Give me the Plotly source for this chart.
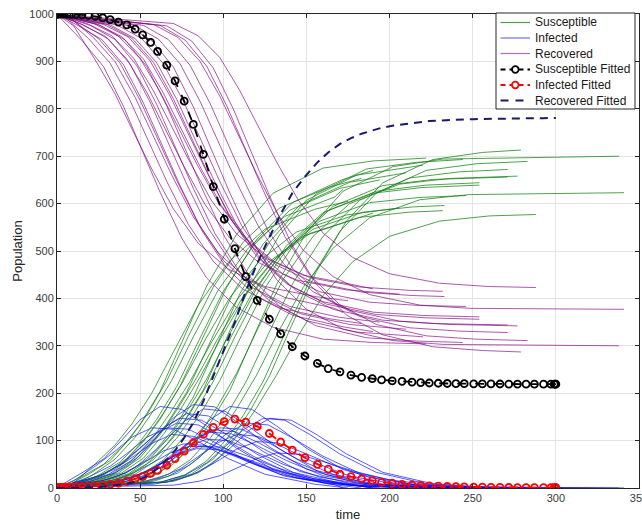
import plotly.graph_objects as go

# ---------------- stochastic trajectories ----------------
traj_time = [
    [0, 10, 23, 35, 45, 57, 70, 85, 103, 125, 155, 175],
    [0, 15, 28, 40, 50, 62, 75, 90, 108, 130, 160, 190, 222],
    [0, 4, 19, 32, 44, 54, 66, 79, 94, 112, 134, 164, 183],
    [0, 7, 22, 35, 47, 57, 69, 82, 97, 115, 137, 167, 172],
    [0, 10, 25, 38, 50, 60, 72, 85, 100, 118, 140, 170, 194],
    [0, 12, 27, 40, 52, 62, 74, 87, 102, 120, 142, 172, 190],
    [0, 14, 29, 42, 54, 64, 76, 89, 104, 122, 144, 174, 206],
    [0, 16, 31, 44, 56, 66, 78, 91, 106, 124, 146, 176, 210],
    [0, 18, 33, 46, 58, 68, 80, 93, 108, 126, 148, 178, 190],
    [0, 20, 35, 48, 60, 70, 82, 95, 110, 128, 150, 180, 210, 220],
    [0, 22, 37, 50, 62, 72, 84, 97, 112, 130, 152, 182, 212, 232],
    [0, 24, 39, 52, 64, 74, 86, 99, 114, 132, 154, 184, 214, 233],
    [0, 26, 41, 54, 66, 76, 88, 101, 116, 134, 156, 186, 216, 244],
    [0, 28, 43, 56, 68, 78, 90, 103, 118, 136, 158, 188, 218, 246],
    [0, 30, 45, 58, 70, 80, 92, 105, 120, 138, 160, 190, 220, 254],
    [0, 32, 47, 60, 72, 82, 94, 107, 122, 140, 162, 192, 222, 254],
    [0, 36, 51, 64, 76, 86, 98, 111, 126, 144, 166, 196, 226, 271],
    [0, 42, 57, 70, 82, 92, 104, 117, 132, 150, 172, 202, 232, 338],
    [0, 46, 61, 74, 86, 96, 108, 121, 136, 154, 176, 206, 236, 277],
    [0, 52, 67, 80, 92, 102, 114, 127, 142, 160, 182, 212, 242, 271],
    [0, 58, 73, 86, 98, 108, 120, 133, 148, 166, 188, 218, 248, 341],
    [0, 62, 77, 90, 102, 112, 124, 137, 152, 170, 192, 222, 252, 283],
    [0, 66, 81, 94, 106, 116, 128, 141, 156, 174, 196, 226, 256, 279],
    [0, 70, 85, 98, 110, 120, 132, 145, 160, 178, 200, 230, 260, 288],
]

# purple curves (legend: "Recovered")
traj_purple = [
    [999, 975, 903, 831, 758, 673, 589, 516, 462, 425, 404, 395],
    [999, 944, 889, 805, 722, 624, 527, 443, 381, 339, 314, 307, 304],
    [999, 996, 948, 896, 817, 739, 647, 556, 478, 419, 380, 357, 347],
    [999, 995, 950, 899, 824, 748, 660, 572, 496, 439, 402, 379, 370],
    [999, 985, 948, 896, 818, 740, 649, 558, 480, 422, 383, 360, 350],
    [999, 977, 946, 893, 812, 732, 638, 544, 464, 404, 364, 340, 330],
    [999, 979, 953, 905, 835, 764, 681, 598, 527, 474, 439, 418, 409],
    [999, 977, 947, 894, 814, 734, 641, 548, 468, 408, 368, 345, 335],
    [999, 980, 954, 907, 838, 768, 687, 606, 536, 484, 449, 429, 420],
    [999, 976, 946, 891, 809, 728, 632, 537, 455, 394, 353, 329, 322, 319],
    [999, 980, 953, 906, 836, 766, 684, 602, 532, 479, 444, 424, 417, 415],
    [999, 979, 952, 905, 833, 762, 678, 595, 523, 470, 434, 413, 406, 404],
    [999, 976, 945, 889, 806, 723, 626, 529, 446, 383, 342, 317, 310, 307],
    [999, 978, 951, 901, 827, 753, 667, 580, 506, 451, 414, 392, 385, 383],
    [999, 978, 949, 898, 821, 744, 655, 565, 489, 431, 393, 371, 364, 361],
    [999, 977, 948, 897, 820, 742, 652, 562, 485, 427, 388, 366, 359, 356],
    [999, 977, 948, 895, 816, 738, 646, 554, 475, 416, 377, 354, 347, 344],
    [999, 976, 944, 888, 804, 720, 622, 524, 440, 377, 335, 311, 303, 300],
    [999, 977, 947, 895, 816, 737, 645, 553, 474, 414, 375, 352, 345, 342],
    [999, 976, 946, 892, 812, 731, 637, 543, 462, 402, 362, 338, 331, 328],
    [999, 978, 950, 900, 826, 751, 664, 576, 502, 446, 408, 386, 379, 377],
    [999, 976, 945, 890, 807, 724, 628, 531, 449, 387, 345, 321, 314, 311],
    [999, 975, 943, 886, 800, 715, 615, 515, 430, 365, 323, 298, 290, 287],
    [999, 980, 954, 908, 838, 769, 688, 608, 538, 486, 452, 432, 425, 423],
]

# blue curves (legend: "Infected")
traj_blue = [
    [1, 15, 46, 78, 107, 127, 124, 98, 62, 29, 8, 0],
    [1, 32, 61, 105, 144, 172, 166, 131, 84, 39, 11, 3, 0],
    [1, 3, 23, 46, 78, 107, 127, 124, 98, 62, 29, 8, 0],
    [1, 4, 21, 40, 69, 94, 113, 109, 86, 55, 25, 7, 0],
    [1, 11, 25, 49, 84, 115, 137, 133, 105, 67, 31, 8, 0],
    [1, 12, 27, 53, 90, 123, 147, 143, 113, 72, 33, 9, 0],
    [1, 8, 17, 33, 57, 78, 93, 90, 71, 46, 21, 6, 0],
    [1, 13, 29, 56, 96, 131, 157, 152, 120, 77, 35, 10, 0],
    [1, 7, 16, 32, 54, 74, 88, 86, 68, 43, 20, 5, 0],
    [1, 14, 32, 63, 108, 148, 176, 171, 135, 86, 40, 11, 3, 0],
    [1, 7, 15, 30, 51, 70, 83, 81, 64, 41, 19, 5, 1, 0],
    [1, 7, 16, 32, 54, 74, 88, 86, 68, 43, 20, 5, 1, 0],
    [1, 14, 31, 60, 102, 139, 167, 162, 128, 82, 37, 10, 3, 0],
    [1, 8, 19, 37, 63, 86, 103, 100, 79, 50, 23, 6, 2, 0],
    [1, 10, 22, 42, 72, 98, 118, 114, 90, 58, 26, 7, 2, 0],
    [1, 10, 23, 44, 75, 103, 123, 119, 94, 60, 28, 8, 2, 0],
    [1, 10, 23, 46, 78, 107, 127, 124, 98, 62, 29, 8, 2, 0],
    [1, 14, 32, 61, 105, 144, 172, 166, 131, 84, 39, 11, 3, 0],
    [1, 9, 21, 40, 69, 94, 113, 109, 86, 55, 25, 7, 2, 0],
    [1, 11, 25, 49, 84, 115, 137, 133, 105, 67, 31, 8, 2, 0],
    [1, 8, 18, 35, 60, 82, 98, 95, 75, 48, 22, 6, 2, 0],
    [1, 12, 27, 53, 90, 123, 147, 143, 113, 72, 33, 9, 2, 0],
    [1, 12, 27, 53, 90, 123, 147, 143, 113, 72, 33, 9, 2, 0],
    [1, 6, 14, 26, 45, 62, 74, 71, 56, 36, 17, 5, 1, 0],
]

# green curves (legend: "Susceptible")
traj_green = [
    [0, 10, 51, 91, 135, 200, 287, 386, 476, 546, 588, 605],
    [0, 24, 50, 90, 134, 204, 307, 426, 535, 622, 675, 690, 696],
    [0, 1, 29, 58, 105, 154, 226, 320, 424, 519, 591, 635, 653],
    [0, 1, 29, 61, 107, 158, 227, 319, 418, 506, 573, 614, 630],
    [0, 4, 27, 55, 98, 145, 214, 309, 415, 511, 586, 632, 650],
    [0, 11, 27, 54, 98, 145, 215, 313, 423, 524, 603, 651, 670],
    [0, 13, 30, 62, 108, 158, 226, 312, 402, 480, 540, 576, 591],
    [0, 10, 24, 50, 90, 135, 202, 300, 412, 515, 597, 645, 665],
    [0, 13, 30, 61, 108, 158, 225, 308, 396, 473, 531, 566, 580],
    [0, 10, 22, 46, 83, 124, 192, 292, 410, 520, 607, 660, 675, 681],
    [0, 13, 32, 64, 113, 164, 233, 317, 404, 480, 537, 571, 582, 585],
    [0, 14, 32, 63, 113, 164, 234, 319, 409, 487, 546, 582, 593, 596],
    [0, 10, 24, 51, 92, 138, 207, 309, 426, 535, 621, 673, 687, 693],
    [0, 14, 30, 62, 110, 161, 230, 320, 415, 499, 563, 602, 613, 617],
    [0, 12, 29, 60, 107, 158, 227, 321, 421, 511, 581, 622, 634, 639],
    [0, 13, 29, 59, 105, 155, 225, 319, 421, 513, 584, 626, 639, 644],
    [0, 13, 29, 59, 106, 155, 227, 322, 427, 522, 594, 638, 651, 656],
    [0, 10, 24, 51, 91, 136, 206, 310, 429, 539, 626, 678, 694, 700],
    [0, 14, 32, 65, 115, 169, 242, 338, 440, 531, 600, 641, 653, 658],
    [0, 13, 29, 59, 104, 154, 226, 324, 433, 531, 607, 654, 667, 672],
    [0, 14, 32, 65, 114, 167, 238, 329, 423, 506, 570, 608, 619, 623],
    [0, 12, 28, 57, 103, 153, 225, 326, 438, 541, 622, 670, 684, 689],
    [0, 13, 30, 61, 110, 162, 238, 342, 457, 563, 644, 693, 708, 713],
    [0, 14, 32, 66, 117, 169, 238, 321, 406, 478, 531, 563, 574, 577],
]

# ---------------- fitted curves ----------------
fit_time = [0, 0.3, 0.8, 1.5, 2.5, 4, 6, 8.5, 11.5, 15, 18.8, 23, 27.5, 32, 37, 42, 47,
            51.5, 56.3, 60.5, 66, 71, 76.5, 82, 88, 94, 100.6, 107, 113.5, 120.4, 127.7,
            134.5, 141.5, 149.1, 156.6, 163.1, 170.2, 176.8, 183.2, 189.6, 195.2, 201.6,
            207.5, 213.5, 218.7, 223.9, 229.3, 234.7, 239.9, 244.9, 250.6, 255.8, 261,
            266.4, 271.7, 276.9, 282.1, 287.1, 292.6, 297, 299, 299.6, 300]
fit_sus = [1000, 1000, 1000, 1000, 1000, 999.8, 999.6, 999, 998.5, 998, 997, 995, 992, 988,
           983, 977, 968, 956, 940, 921, 892, 859, 816, 767, 704, 636, 567, 505, 446, 396,
           356, 325, 298, 278.5, 263, 252, 245, 238, 233.5, 230.6, 228, 226, 225, 223.5,
           222.5, 221.5, 221, 220.5, 220.2, 220, 219.8, 219.6, 219.5, 219.4, 219.3, 219.2,
           219.1, 219, 219, 219, 219, 219, 219]
fit_inf = [1, 1, 1.1, 1.1, 1.2, 1.3, 1.5, 1.8, 2.2, 2.6, 3, 4, 5.5, 7.5, 10, 14, 19, 24, 31,
           37, 48, 62, 78, 95, 113, 128, 140, 145.5, 139, 130, 115, 97, 80, 64, 50, 40, 29,
           24, 19, 15.4, 12, 10, 7.8, 6.3, 5.5, 4.5, 3.8, 3.2, 2.7, 2.3, 2, 1.7, 1.5, 1.3,
           1.1, 1, 0.9, 0.8, 0.7, 0.6, 0.6, 0.6, 0.6]
fit_rec = [0, 0, 0, 0, 0, 0, 0, 0.1, 0.2, 0.3, 0.5, 1, 2.5, 4.5, 7, 9, 13, 20, 29, 42, 60, 79,
           106, 138, 183, 236, 293, 350, 415, 474, 529, 578, 622, 657, 687, 708, 726, 738,
           747.5, 754, 760, 764, 767, 770, 772, 774, 775, 776.3, 777, 777.7, 778.2, 778.7,
           779, 779.3, 779.6, 779.8, 780, 780.2, 780.3, 780.4, 780.4, 780.4, 780.4]

x_ticks = [0, 50, 100, 150, 200, 250, 300, 350]
y_ticks = [0, 100, 200, 300, 400, 500, 600, 700, 800, 900, 1000]

legend_labels = ["Susceptible", "Infected", "Recovered",
                 "Susceptible Fitted", "Infected Fitted", "Recovered Fitted"]

GREEN = "rgba(20,130,20,0.75)"
BLUE = "rgba(0,0,255,0.65)"
PURPLE = "rgba(128,0,128,0.65)"
NAVY = "rgb(25,25,112)"

fig = go.Figure()
for k in range(len(traj_time)):
    fig.add_trace(go.Scatter(x=traj_time[k], y=traj_green[k], mode="lines",
                             line=dict(color=GREEN, width=1), name=legend_labels[0],
                             showlegend=False, hoverinfo="skip"))
    fig.add_trace(go.Scatter(x=traj_time[k], y=traj_blue[k], mode="lines",
                             line=dict(color=BLUE, width=1), name=legend_labels[1],
                             showlegend=False, hoverinfo="skip"))
    fig.add_trace(go.Scatter(x=traj_time[k], y=traj_purple[k], mode="lines",
                             line=dict(color=PURPLE, width=1), name=legend_labels[2],
                             showlegend=False, hoverinfo="skip"))

fig.add_trace(go.Scatter(x=fit_time, y=fit_sus, mode="lines+markers", name=legend_labels[3],
                         line=dict(color="black", width=1.8, dash="dash"),
                         marker=dict(symbol="circle-open", size=7, color="black",
                                     line=dict(width=1.8)), showlegend=False))
fig.add_trace(go.Scatter(x=fit_time, y=fit_inf, mode="lines+markers", name=legend_labels[4],
                         line=dict(color="red", width=1.8, dash="dash"),
                         marker=dict(symbol="circle-open", size=7, color="red",
                                     line=dict(width=1.8)), showlegend=False))
fig.add_trace(go.Scatter(x=fit_time, y=fit_rec, mode="lines", name=legend_labels[5],
                         line=dict(color=NAVY, width=2, dash="8px,6px"), showlegend=False))

# ---------------- compact MATLAB-style legend box (paper coordinates) ----------------
PX0, PW, PY0, PH = 57, 582, 488, 474          # plot area in pixels


def px(xp):
    return (xp - PX0) / PW


def py(yp):
    return (PY0 - yp) / PH


shapes = [dict(type="rect", xref="paper", yref="paper", x0=px(496), x1=px(635),
               y0=py(109), y1=py(13), line=dict(color="#262626", width=1),
               fillcolor="white", layer="above")]
annotations = []
row_y = [22.5, 38, 53.5, 69.5, 85, 100.5]
sym_style = [
    dict(color="rgba(20,130,20,0.75)", width=1.2, dash="solid", marker=None),
    dict(color="rgba(60,60,255,0.75)", width=1.2, dash="solid", marker=None),
    dict(color="rgba(150,60,150,0.75)", width=1.2, dash="solid", marker=None),
    dict(color="black", width=1.8, dash="5px,4px", marker="black"),
    dict(color="red", width=1.8, dash="5px,4px", marker="red"),
    dict(color=NAVY, width=2, dash="8px,7px", marker=None),
]
for yrow, lab, st in zip(row_y, legend_labels, sym_style):
    shapes.append(dict(type="line", xref="paper", yref="paper", x0=px(500.5), x1=px(530),
                       y0=py(yrow), y1=py(yrow), layer="above",
                       line=dict(color=st["color"], width=st["width"], dash=st["dash"])))
    if st["marker"]:
        shapes.append(dict(type="circle", xref="paper", yref="paper",
                           x0=px(515.3 - 3.3), x1=px(515.3 + 3.3),
                           y0=py(yrow + 3.3), y1=py(yrow - 3.3), layer="above",
                           fillcolor="white", line=dict(color=st["marker"], width=1.8)))
    annotations.append(dict(xref="paper", yref="paper", x=px(533), y=py(yrow),
                            xanchor="left", yanchor="middle", showarrow=False, text=lab,
                            font=dict(family="Liberation Sans, Arial", size=12,
                                      color="#1a1a1a")))

axis_common = dict(showline=True, linecolor="#262626", linewidth=1, mirror="ticks",
                   ticks="inside", ticklen=4, tickcolor="#262626", showgrid=True,
                   gridcolor="#e3e3e3", gridwidth=1, zeroline=False, automargin=False,
                   tickfont=dict(family="Liberation Sans, Arial", size=11, color="#3a3a3a"))

fig.update_layout(
    width=642, height=525,
    margin=dict(l=57, r=3, t=14, b=37, autoexpand=False),
    paper_bgcolor="white", plot_bgcolor="white",
    font=dict(family="Liberation Sans, Arial", color="#262626"),
    xaxis=dict(range=[0, 350], tickvals=x_ticks, ticklabeloverflow="allow",
               title=dict(text="time", standoff=6, font=dict(size=13, color="#262626")),
               **axis_common),
    yaxis=dict(range=[0, 1000], tickvals=y_ticks,
               title=dict(text="Population", standoff=3, font=dict(size=13, color="#262626")),
               **axis_common),
    shapes=shapes,
    annotations=annotations,
    showlegend=False,
)

fig.write_html("out.html")
